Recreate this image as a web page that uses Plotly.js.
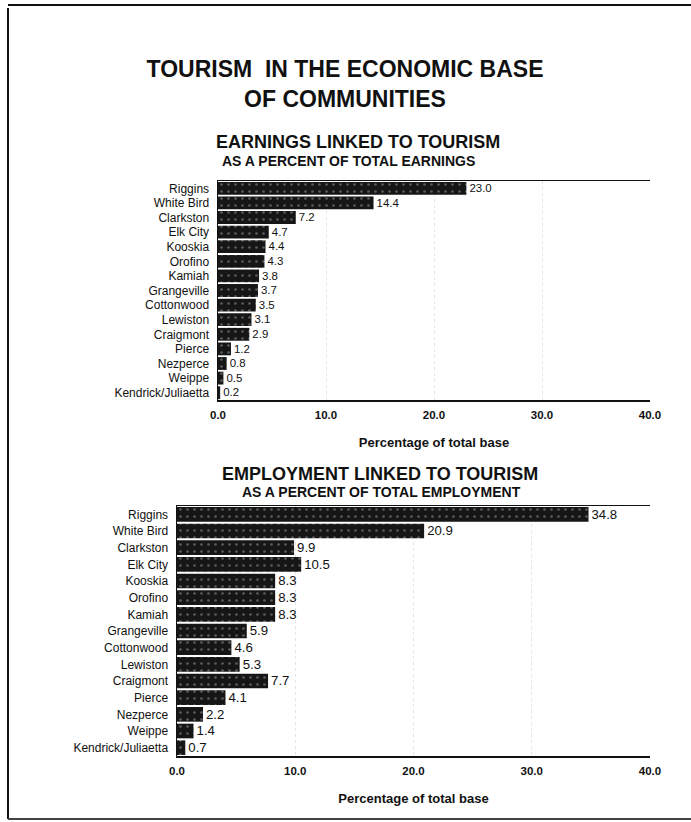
<!DOCTYPE html>
<html>
<head>
<meta charset="utf-8">
<script src="https://cdn.plot.ly/plotly-3.0.1.min.js"></script>
<style>
  html, body { margin: 0; padding: 0; background: #ffffff; }
  #chart { width: 691px; height: 822px; }
</style>
</head>
<body>
<div id="chart"></div>
<script>
// Communities, listed top to bottom
const communities = [
  "Riggins", "White Bird", "Clarkston", "Elk City", "Kooskia", "Orofino",
  "Kamiah", "Grangeville", "Cottonwood", "Lewiston", "Craigmont", "Pierce",
  "Nezperce", "Weippe", "Kendrick/Juliaetta"
];

// Earnings linked to tourism, % of total earnings
const earningsPct = [23.0, 14.4, 7.2, 4.7, 4.4, 4.3, 3.8, 3.7, 3.5, 3.1, 2.9, 1.2, 0.8, 0.5, 0.2];

// Employment linked to tourism, % of total employment
const employmentPct = [34.8, 20.9, 9.9, 10.5, 8.3, 8.3, 8.3, 5.9, 4.6, 5.3, 7.7, 4.1, 2.2, 1.4, 0.7];

// Shared x axis ticks
const tickValues = [0, 10, 20, 30, 40];
const tickLabels = ["0.0", "10.0", "20.0", "30.0", "40.0"];

const W = 691, H = 822;
const px = v => v / W;          // pixel -> paper x
const py = v => 1 - v / H;      // pixel -> paper y

const FONT = "Liberation Sans, Arial, Helvetica, sans-serif";
const INK = "#111111";

function barTrace(values, xa, ya, labelSize) {
  return {
    type: "bar",
    orientation: "h",
    x: values,
    y: communities,
    xaxis: xa,
    yaxis: ya,
    marker: {
      color: "#161616",
      line: { width: 0 },
      // light speckle over the dark fill, like a printed halftone
      pattern: { shape: ".", fgcolor: "#5a5a5a", bgcolor: "#161616", size: 7, solidity: 0.12, fillmode: "replace" }
    },
    text: values.map(v => v.toFixed(1)),
    textposition: "outside",
    textfont: { family: FONT, size: labelSize, color: INK },
    cliponaxis: false,
    hoverinfo: "skip",
    showlegend: false
  };
}

function xAxis(domain, anchor) {
  return {
    domain: domain,
    anchor: anchor,
    range: [0, 40],
    tickvals: tickValues,
    ticktext: tickLabels,
    ticks: "",
    ticklabelstandoff: 4,
    showline: true,
    mirror: true,
    linecolor: INK,
    linewidth: 1.5,
    showgrid: true,
    gridcolor: "#e4e4e4",
    griddash: "dot",
    gridwidth: 1,
    zeroline: false,
    tickfont: { family: FONT, size: 11.5, color: INK, weight: "bold" },
    title: {
      text: "Percentage of total base",
      font: { family: FONT, size: 13, color: INK, weight: "bold" },
      standoff: 17
    },
    fixedrange: true
  };
}

function yAxis(domain, anchor) {
  return {
    domain: domain,
    anchor: anchor,
    type: "category",
    autorange: "reversed",
    ticks: "",
    showline: true,
    linecolor: INK,
    linewidth: 1.5,
    showgrid: false,
    zeroline: false,
    ticklabelstandoff: 5,
    tickfont: { family: FONT, size: 12, color: INK },
    fixedrange: true
  };
}

const data = [
  barTrace(earningsPct, "x", "y", 12.5),
  barTrace(employmentPct, "x2", "y2", 13.5)
];

function heading(text, x, y, size) {
  return {
    text: text, xref: "paper", yref: "paper",
    x: px(x), y: py(y), xanchor: "center", yanchor: "middle", showarrow: false,
    font: { family: FONT, size: size, color: INK, weight: "bold" }
  };
}

const layout = {
  width: W,
  height: H,
  margin: { l: 0, r: 0, t: 0, b: 0 },
  paper_bgcolor: "#ffffff",
  plot_bgcolor: "#ffffff",
  bargap: 0.12,
  font: { family: FONT, color: INK },
  title: {
    text: "TOURISM\u00a0 IN THE ECONOMIC BASE<br>OF COMMUNITIES",
    x: px(345), xanchor: "center",
    y: py(77), yanchor: "top",
    font: { family: FONT, size: 23, color: INK, weight: "bold" }
  },
  xaxis: xAxis([px(218), px(650)], "y"),
  yaxis: yAxis([py(400), py(181)], "x"),
  xaxis2: xAxis([px(177), px(650)], "y2"),
  yaxis2: yAxis([py(756), py(506)], "x2"),
  annotations: [
    heading("EARNINGS LINKED TO TOURISM", 358, 142, 18),
    heading("AS A PERCENT OF TOTAL EARNINGS", 348, 161, 14),
    heading("EMPLOYMENT LINKED TO TOURISM", 380, 474, 18),
    heading("AS A PERCENT OF TOTAL EMPLOYMENT", 382, 492, 14)
  ],
  shapes: [
    // page frame
    { type: "line", xref: "paper", yref: "paper", x0: px(8), x1: px(8), y0: py(8), y1: py(819),
      line: { color: INK, width: 2 } },
    { type: "line", xref: "paper", yref: "paper", x0: px(8), x1: px(691), y0: py(5), y1: py(5),
      line: { color: INK, width: 2 } },
    { type: "line", xref: "paper", yref: "paper", x0: px(8), x1: px(691), y0: py(819), y1: py(819),
      line: { color: "#444444", width: 2 } }
  ]
};

Plotly.newPlot("chart", data, layout, { displayModeBar: false, staticPlot: true });
</script>
</body>
</html>
